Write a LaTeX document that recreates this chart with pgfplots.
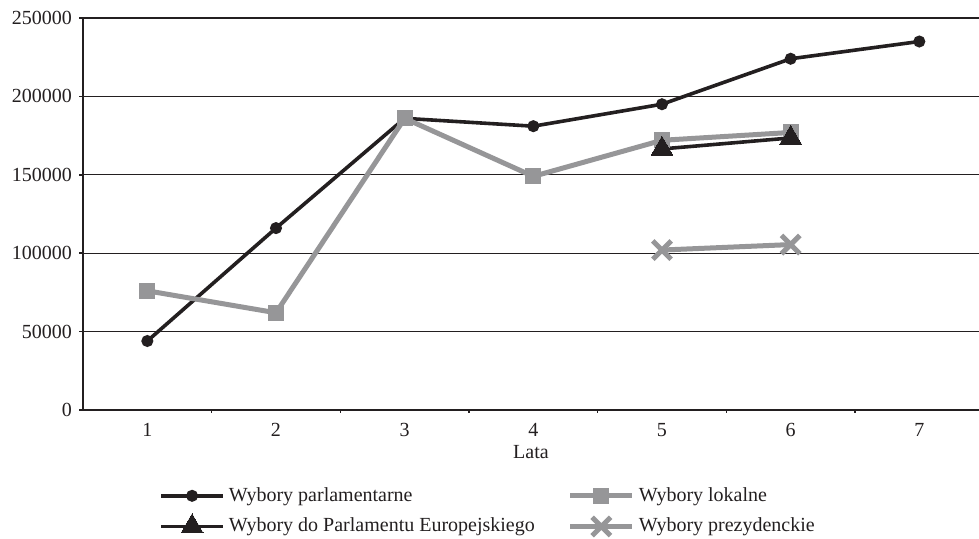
\documentclass[border=0pt]{standalone}
\usepackage{fontspec}
\setmainfont{Liberation Serif}
\usepackage{pgfplots}
\pgfplotsset{compat=1.18}
\definecolor{blk}{RGB}{35,31,32}
\definecolor{gry}{RGB}{150,150,152}
\begin{document}
\begin{tikzpicture}
\useasboundingbox (0,0) rectangle (489.5pt,269.5pt);
\begin{axis}[
 at={(41.5pt,64.5pt)}, anchor=south west,
 scale only axis, width=448pt, height=196pt,
 xmin=0.5, xmax=7.464, ymin=0, ymax=250000,
 xtick={1,2,3,4,5,6,7}, xticklabels={1,2,3,4,5,6,7},
 minor xtick={1.5,2.5,3.5,4.5,5.5,6.5},
 ytick={0,50000,100000,150000,200000,250000},
 yticklabels={0,50000,100000,150000,200000,250000},
 scaled y ticks=false,
 tick align=outside, tick pos=left,
 major tick length=2pt, minor tick length=1.5pt,
 tick style={blk, line width=0.8pt},
 major x tick style={draw=none},
 ymajorgrids, major grid style={blk, line width=0.6pt},
 axis line style={draw=none},
 tick label style={font=\fontsize{10}{12}\selectfont, text=blk},
 xticklabel style={yshift=-1pt},
 xlabel={Lata},
 xlabel style={font=\fontsize{10}{12}\selectfont, text=blk, at={(axis description cs:0.5,0)}, anchor=center, yshift=-21pt},
 legend style={draw=none, fill=none, at={(axis description cs:0.078,-0.176)}, anchor=north west,
   font=\fontsize{10}{12}\selectfont, text=blk, row sep=2.8pt,
   /tikz/column 2/.style={column sep=14.5pt}},
 legend columns=2,
 legend cell align=left,
 legend image code/.code={\draw[mark repeat=2,mark phase=2] plot coordinates {(0pt,0pt)(15.5pt,0pt)(31pt,0pt)};},
 after end axis/.code={
   \draw[blk, line width=1.2pt] (rel axis cs:1,1) -- (rel axis cs:0,1) -- (rel axis cs:0,0) -- (rel axis cs:1,0);
 },
]
\addplot[blk, line width=1.8pt, mark=*, mark size=2.5pt, mark options={solid, line width=1pt}] coordinates {(1,44000)(2,116000)(3,186000)(4,181000)(5,195000)(6,224000)(7,235000)};
\addlegendentry{Wybory parlamentarne}
\addplot[gry, line width=2.5pt, mark=square*, mark size=3.75pt, mark options={solid, line width=0pt}] coordinates {(1,76000)(2,62000)(3,186000)(4,149000)(5,172000)(6,177000)};
\addlegendentry{Wybory lokalne}
\addplot[blk, line width=1.8pt, mark=triangle*, mark size=6.3pt, mark options={solid, line width=0pt}] coordinates {(5,166500)(6,173500)};
\addlegendentry{Wybory do Parlamentu Europejskiego}
\addplot[gry, line width=2.5pt, mark=x, mark size=6.5pt, mark options={solid, line width=2.5pt}] coordinates {(5,102000)(6,105500)};
\addlegendentry{Wybory prezydenckie}
\end{axis}
\end{tikzpicture}
\end{document}
